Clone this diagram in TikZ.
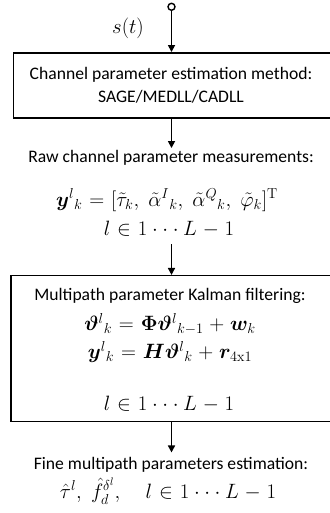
\documentclass[tikz,border=0pt]{standalone}
\usepackage{amsmath}
\usepackage{amssymb}
\usepackage{bm}
\usepackage[no-math]{fontspec}
\setmainfont{Carlito}
\usetikzlibrary{arrows.meta,positioning}
\tikzset{
    % Block with frame
    block/.style={draw,line width=1.5pt,rectangle,inner sep=0pt},
    % Plain text line
    txt/.style={font=\fontsize{17.6}{21}\selectfont,inner sep=0pt,anchor=center},
    % Formula line
    eq/.style={font=\fontsize{21}{24}\selectfont,inner sep=0pt,anchor=center},
    % Flow arrow
    flow/.style={-{Triangle[length=7pt,width=7pt]},line width=1.6pt}
}
\thinmuskip=4mu
\medmuskip=5mu plus 2mu minus 4mu
\thickmuskip=6mu plus 5mu

\begin{document}
\begin{tikzpicture}[x=1pt,y=-1pt]
    \useasboundingbox (0,0) rectangle (329,513);

    % Input terminal
    \node[circle,draw,line width=1.4pt,minimum size=7pt,inner sep=0pt] (src) at (171.5,6.8) {};
    \node[eq] (sig) at (128,28) {$s(t)$};

    % Estimation block
    \node[block,minimum width=317pt,minimum height=65pt] (est) at (172,85.3) {};
    \node[txt] (est1) at (171,75) {Channel parameter estimation method:};
    \node[txt] (est2) at (171,97) {SAGE/MEDLL/CADLL};

    % Raw measurements
    \node[txt] (raw) at (171,158) {Raw channel parameter measurements:};
    \node[eq] (raweq) at (167,200) {$\bm{y}^{l}{}_{k} = [\tilde{\tau}_{k},\, \tilde{\alpha}^{I}{}_{k},\, \tilde{\alpha}^{Q}{}_{k},\, \tilde{\varphi}_{k}]^{\mathrm{T}}$};
    \node[eq] (rawidx) at (169,229) {$l \in 1 \cdots L-1$};

    % Kalman block
    \node[block,minimum width=320pt,minimum height=146pt] (kal) at (171,348.7) {};
    \node[txt] (kal1) at (170,296) {Multipath parameter Kalman filtering:};
    \node[eq] (kal2) at (170,324) {$\bm{\vartheta}^{l}{}_{k} = \bm{\Phi}\bm{\vartheta}^{l}{}_{k-1} + \bm{w}_{k}$};
    \node[eq] (kal3) at (170,352) {$\bm{y}^{l}{}_{k} = \bm{H}\bm{\vartheta}^{l}{}_{k} + \bm{r}_{4\mathrm{x}1}$};
    \node[eq] (kal4) at (169,404) {$l \in 1 \cdots L-1$};

    % Output
    \node[txt] (fine) at (171,465) {Fine multipath parameters estimation:};
    \node[eq] (fineeq) at (168,491) {$\hat{\tau}^{l},\ \hat{f}_{d}^{\delta^{l}},\quad l \in 1 \cdots L-1$};

    % Arrows
    \draw[flow] (src.south) -- (src.south |- est.north);
    \draw[flow] (est.south -| src) -- ++(0,29.5);
    \draw[flow] (171.5,244) -- (kal.north -| src);
    \draw[flow] (kal.south -| src) -- ++(0,30);
\end{tikzpicture}
\end{document}
